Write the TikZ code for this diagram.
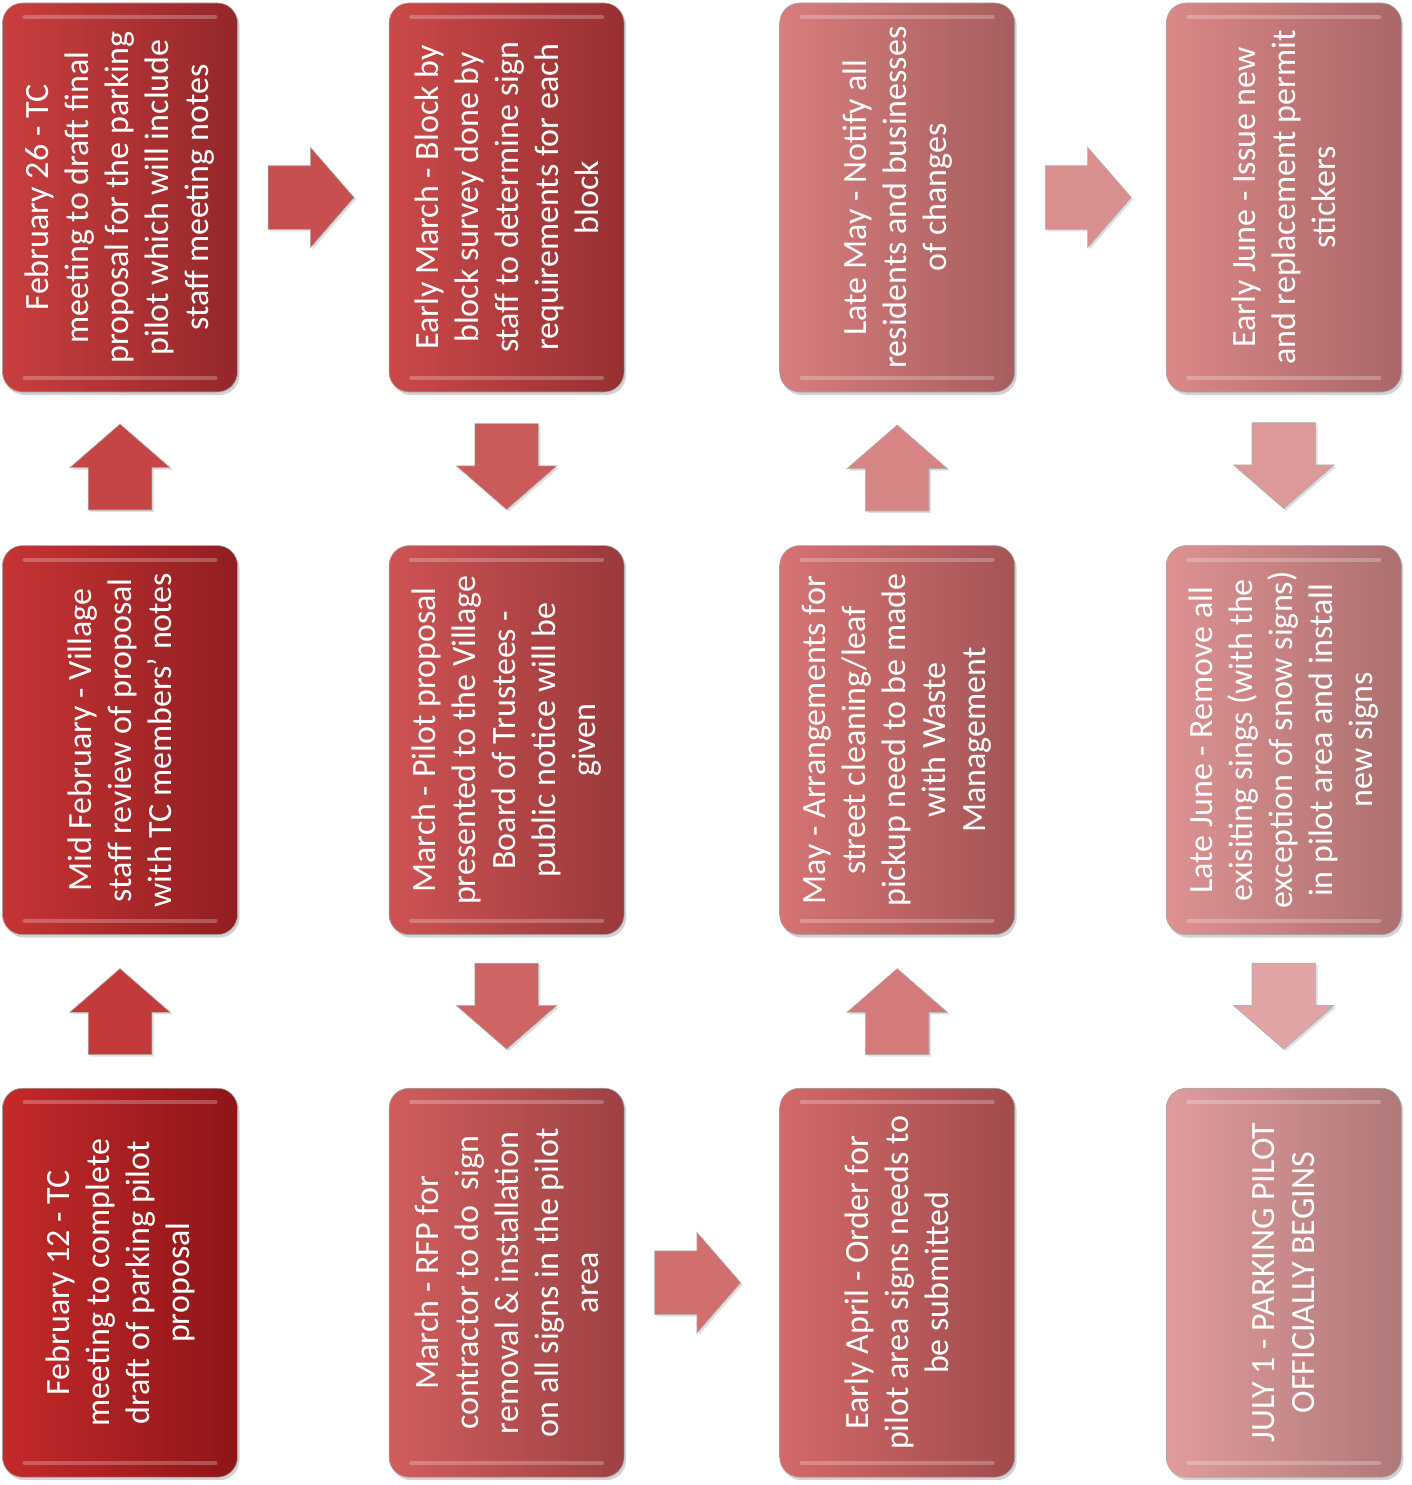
\documentclass[tikz,border=0pt]{standalone}
\usepackage{fontspec}
\setmainfont{Carlito}
\usetikzlibrary{positioning,shapes.arrows,shadows}

\definecolor{darkleft}{HTML}{C42A2A}
\definecolor{darkright}{HTML}{8E1518}
\definecolor{lightleft}{HTML}{E09C9C}
\definecolor{lightright}{HTML}{B07878}
\definecolor{arrowdark}{HTML}{C23A3A}
\definecolor{arrowlight}{HTML}{E0A4A4}

\newcommand{\steptext}[1]{\rotatebox{90}{\parbox{360pt}{\centering #1}}}

\tikzset{
  stepbox/.style={rounded corners=20pt,minimum width=235pt,minimum height=389pt,inner sep=0pt,
    text=white,font=\fontsize{34}{40}\selectfont,draw=black!35,
    left color=lightleft!#1!darkleft,right color=lightright!#1!darkright,
    drop shadow={opacity=.35,shadow xshift=2pt,shadow yshift=-3pt},
    path picture={
      \draw[white,opacity=.25,line width=4pt,line cap=round]
        ([xshift=22pt,yshift=-14pt]path picture bounding box.north west) --
        ([xshift=-22pt,yshift=-14pt]path picture bounding box.north east);
      \draw[white,opacity=.25,line width=4pt,line cap=round]
        ([xshift=22pt,yshift=14pt]path picture bounding box.south west) --
        ([xshift=-22pt,yshift=14pt]path picture bounding box.south east);}},
  flowarrow/.style={single arrow,minimum height=86pt,minimum width=100pt,anchor=tail,
    single arrow head extend=18.5pt,single arrow head indent=0pt,single arrow tip angle=98,
    fill=arrowlight!#1!arrowdark,draw=black!30,
    drop shadow={opacity=.25,shadow xshift=2pt,shadow yshift=-2pt}},
  rightarrow/.style={flowarrow=#1,inner xsep=0pt,inner ysep=31.5pt},
  uparrow/.style={flowarrow=#1,shape border rotate=90,inner xsep=31.5pt,inner ysep=0pt},
  downarrow/.style={flowarrow=#1,shape border rotate=270,inner xsep=31.5pt,inner ysep=0pt}
}

\begin{document}
\begin{tikzpicture}[x=1pt,y=-1pt,line width=.6pt,node distance=153pt]
\path[use as bounding box,fill=white] (0,0) rectangle (1411,1485);
% first column, read from the bottom up
\node[stepbox=18] (feb26) at (120,197.5) {\steptext{February 26 - TC\\meeting to draft final\\proposal for the parking\\pilot which will include\\staff meeting notes}};
\node[stepbox=9,below=of feb26] (midfeb) {\steptext{Mid February - Village\\staff review of proposal\\with TC members' notes}};
\node[stepbox=0,below=of midfeb] (feb12) {\steptext{February 12 - TC\\meeting to complete\\draft of parking pilot\\proposal}};
% second column, read from the top down
\node[stepbox=27,right=151pt of feb26] (earlymar) {\steptext{Early March - Block by\\block survey done by\\staff to determine sign\\requirements for each\\block}};
\node[stepbox=36,below=of earlymar] (mar) {\steptext{March - Pilot proposal\\presented to the Village\\Board of Trustees -\\public notice will be\\given}};
\node[stepbox=45,below=of mar] (rfp) {\steptext{March - RFP for\\contractor to do\ \ sign\\removal \& installation\\on all signs in the pilot\\area}};
% third column, read from the bottom up
\node[stepbox=73,right=155pt of earlymar] (latemay) {\steptext{Late May - Notify all\\residents and businesses\\of changes}};
\node[stepbox=64,below=of latemay] (may) {\steptext{May - Arrangements for\\street cleaning/leaf\\pickup need to be made\\with Waste\\Management}};
\node[stepbox=55,below=of may] (earlyapr) {\steptext{Early April - Order for\\pilot area signs needs to\\be submitted}};
% fourth column, read from the top down
\node[stepbox=82,right=151pt of latemay] (earlyjun) {\steptext{Early June - Issue new\\and replacement permit\\stickers}};
\node[stepbox=91,below=of earlyjun] (latejun) {\steptext{Late June - Remove all\\exisiting sings (with the\\exception of snow signs)\\in pilot area and install\\new signs}};
\node[stepbox=100,below=of latejun] (jul1) {\steptext{JULY 1 - PARKING PILOT\\OFFICIALLY BEGINS}};
% block arrows between the steps
\node[uparrow=0,above=33pt of feb12.north,anchor=tail] (arrA) {};
\node[uparrow=10,above=35pt of midfeb.north,anchor=tail] (arrB) {};
\node[rightarrow=20,right=30pt of feb26.east,anchor=tail] (arrC) {};
\node[downarrow=30,below=31pt of earlymar.south,anchor=tail] (arrD) {};
\node[downarrow=40,below=28pt of mar.south,anchor=tail] (arrE) {};
\node[rightarrow=50,right=30pt of rfp.east,anchor=tail] (arrF) {};
\node[uparrow=60,above=33pt of earlyapr.north,anchor=tail] (arrG) {};
\node[uparrow=70,above=34pt of may.north,anchor=tail] (arrH) {};
\node[rightarrow=80,right=30pt of latemay.east,anchor=tail] (arrI) {};
\node[downarrow=90,below=30pt of earlyjun.south,anchor=tail] (arrJ) {};
\node[downarrow=100,below=28pt of latejun.south,anchor=tail] (arrK) {};
\end{tikzpicture}
\end{document}
